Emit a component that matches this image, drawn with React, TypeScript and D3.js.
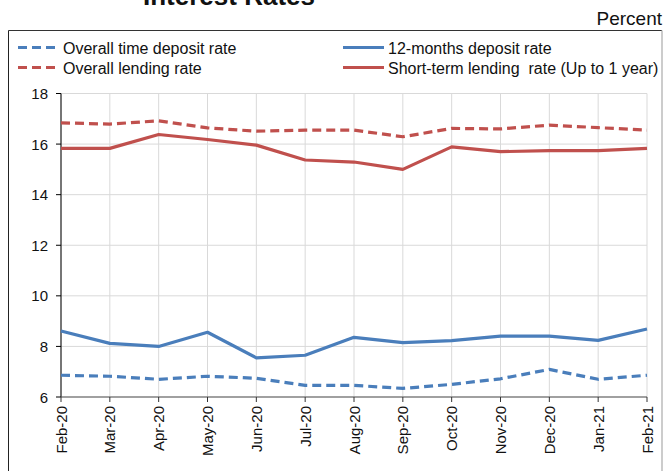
import React from "react";
import * as d3 from "d3";

const months = ["Feb-20","Mar-20","Apr-20","May-20","Jun-20","Jul-20","Aug-20","Sep-20","Oct-20","Nov-20","Dec-20","Jan-21","Feb-21"];
const overallTimeDeposit = [6.86, 6.82, 6.70, 6.82, 6.74, 6.46, 6.46, 6.34, 6.50, 6.72, 7.09, 6.70, 6.86];
const twelveMonthDeposit = [8.61, 8.12, 8.00, 8.56, 7.55, 7.65, 8.36, 8.15, 8.23, 8.41, 8.41, 8.24, 8.69];
const overallLending = [16.84, 16.79, 16.92, 16.64, 16.51, 16.55, 16.55, 16.29, 16.62, 16.60, 16.75, 16.65, 16.55];
const shortTermLending = [15.83, 15.83, 16.38, 16.18, 15.96, 15.37, 15.29, 15.00, 15.89, 15.70, 15.74, 15.74, 15.83];
const yTicks = [6, 8, 10, 12, 14, 16, 18];

const BLUE = "#4a7ebb";
const RED = "#c0504d";
const FONT = "Arial, 'Liberation Sans', Helvetica, sans-serif";

const seriesList = [
  { name: "Overall time deposit rate", values: overallTimeDeposit, color: BLUE, dashed: true },
  { name: "12-months deposit rate", values: twelveMonthDeposit, color: BLUE, dashed: false },
  { name: "Overall lending rate", values: overallLending, color: RED, dashed: true },
  { name: "Short-term lending  rate (Up to 1 year)", values: shortTermLending, color: RED, dashed: false },
];

export default function App() {
  const W = 665, H = 471;
  const left = 61, right = 647, top = 93.5, bottom = 397;
  const x = d3.scalePoint<string>().domain(months).range([left, right]);
  const y = d3.scaleLinear().domain([6, 18]).range([bottom, top]);
  const line = d3.line<number>().x((_, i) => x(months[i]) as number).y((v) => y(v));

  const legendPos = [
    { x1: 18, x2: 56, tx: 63, ty: 48 },
    { x1: 343, x2: 384, tx: 388, ty: 48 },
    { x1: 18, x2: 56, tx: 63, ty: 68 },
    { x1: 343, x2: 384, tx: 388, ty: 68 },
  ];

  return (
    <svg width={W} height={H} style={{ position: "absolute", left: 0, top: 0, background: "#fff" }} fontFamily={FONT}>
      <rect x={0} y={0} width={W} height={H} fill="#fff" />
      <text x={143} y={5} fontSize={26} fontWeight="bold" fill="#111">Interest Rates</text>
      <text x={662} y={25} fontSize={19} textAnchor="end" fill="#111">Percent</text>
      {/* outer box */}
      <line x1={8.5} y1={30.5} x2={662} y2={30.5} stroke="#333" strokeWidth={1} />
      <line x1={8.5} y1={30.5} x2={8.5} y2={H} stroke="#222" strokeWidth={1} />
      <line x1={662} y1={30.5} x2={662} y2={H} stroke="#bbb" strokeWidth={1.5} />

      {/* legend */}
      {seriesList.map((s, i) => {
        const p = legendPos[i];
        return (
          <g key={s.name}>
            <line x1={p.x1} x2={p.x2} y1={p.ty - 0.5} y2={p.ty - 0.5} stroke={s.color} strokeWidth={3}
              strokeDasharray={s.dashed ? "9,5" : undefined} />
            <text x={p.tx} y={p.ty + 5.5} fontSize={16} fill="#111" style={{ whiteSpace: "pre" }}>{s.name}</text>
          </g>
        );
      })}

      {/* grid */}
      {months.map((m) => (
        <line key={"vg" + m} x1={x(m)} x2={x(m)} y1={top} y2={bottom} stroke="#d9d9d9" strokeWidth={1} />
      ))}
      {yTicks.map((t) => (
        <line key={"hg" + t} x1={left} x2={right} y1={y(t)} y2={y(t)} stroke="#d9d9d9" strokeWidth={1} />
      ))}

      {/* axes */}
      <line x1={left} x2={left} y1={top} y2={bottom} stroke="#000" strokeWidth={1} />
      {yTicks.map((t) => (
        <g key={"yt" + t}>
          <line x1={left - 5} x2={left} y1={y(t)} y2={y(t)} stroke="#000" strokeWidth={1} />
          <text x={left - 13} y={y(t) + 5.5} fontSize={15} textAnchor="end" fill="#111">{t}</text>
        </g>
      ))}
      <line x1={left} x2={right} y1={bottom} y2={bottom} stroke="#555" strokeWidth={1.2} />
      {months.map((m) => (
        <g key={"xt" + m}>
          <line x1={x(m)} x2={x(m)} y1={bottom} y2={bottom + 5} stroke="#333" strokeWidth={1} />
          <text transform={`translate(${(x(m) as number) + 5.5},${bottom + 9}) rotate(-90)`} fontSize={15}
            textAnchor="end" fill="#111">{m}</text>
        </g>
      ))}

      {/* series */}
      {seriesList.map((s) => (
        <path key={"l" + s.name} d={line(s.values) || ""} fill="none" stroke={s.color} strokeWidth={3.2}
          strokeDasharray={s.dashed ? "9,5" : undefined} strokeLinejoin="round" />
      ))}
    </svg>
  );
}
